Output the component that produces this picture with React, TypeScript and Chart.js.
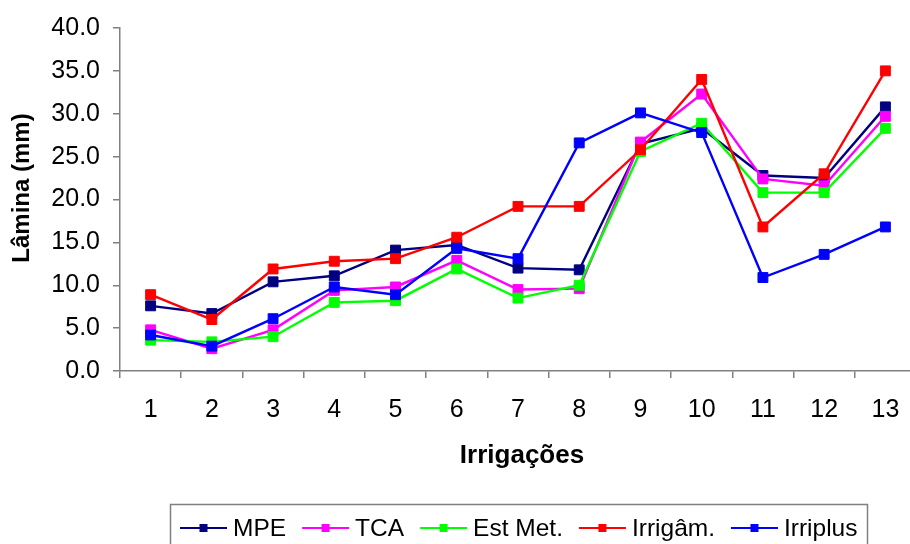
import React, { useEffect, useRef } from 'react';
import { Chart, registerables } from 'chart.js';

Chart.register(...registerables);

const categories = ['1', '2', '3', '4', '5', '6', '7', '8', '9', '10', '11', '12', '13'];
const seriesNames = ['MPE', 'TCA', 'Est Met.', 'Irrigâm.', 'Irriplus'];
const seriesColors = ['#000080', '#FF00FF', '#00FF00', '#FF0000', '#0000FF'];

const mpe = [7.6, 6.7, 10.4, 11.1, 14.1, 14.7, 12.0, 11.8, 26.5, 28.3, 22.8, 22.5, 30.8];
const tca = [4.8, 2.6, 4.8, 9.4, 9.8, 12.9, 9.5, 9.6, 26.7, 32.3, 22.4, 21.6, 29.7];
const estMet = [3.6, 3.4, 4.0, 8.0, 8.2, 11.9, 8.5, 10.0, 25.6, 28.9, 20.8, 20.8, 28.3];
const irrigam = [8.9, 6.0, 11.9, 12.8, 13.1, 15.6, 19.2, 19.2, 25.8, 34.0, 16.8, 23.0, 35.0];
const irriplus = [4.2, 2.9, 6.1, 9.8, 8.9, 14.3, 13.1, 26.6, 30.1, 27.8, 10.9, 13.6, 16.8];

const seriesValues = [mpe, tca, estMet, irrigam, irriplus];

const yTitle = 'Lâmina (mm)';
const xTitle = 'Irrigações';

const FONT = '"Liberation Sans", Arial, sans-serif';
const AXIS_GRAY = '#808080';

const titlesAndLegend = {
  id: 'titlesAndLegend',
  afterDraw(chart: any) {
    const ctx = chart.ctx as CanvasRenderingContext2D;
    ctx.save();
    ctx.fillStyle = '#000';
    // Y title
    ctx.save();
    ctx.translate(22, 188);
    ctx.rotate(-Math.PI / 2);
    ctx.font = `bold 24px ${FONT}`;
    ctx.textAlign = 'center';
    ctx.textBaseline = 'middle';
    ctx.fillText(yTitle, 0, 0);
    ctx.restore();
    // X title
    ctx.font = `bold 26px ${FONT}`;
    ctx.textAlign = 'center';
    ctx.textBaseline = 'middle';
    ctx.fillText(xTitle, 522, 456);

    // Legend box
    ctx.strokeStyle = AXIS_GRAY;
    ctx.lineWidth = 1.5;
    ctx.strokeRect(170.5, 504.5, 697, 70);

    ctx.font = `24.5px ${FONT}`;
    ctx.textAlign = 'left';
    ctx.textBaseline = 'middle';
    let x = 180;
    const cy = 528;
    chart.data.datasets
      .slice()
      .sort((a: any, b: any) => a.legendIndex - b.legendIndex)
      .forEach((ds: any) => {
        ctx.strokeStyle = ds.borderColor;
        ctx.lineWidth = 2;
        ctx.beginPath();
        ctx.moveTo(x, cy);
        ctx.lineTo(x + 47, cy);
        ctx.stroke();
        ctx.fillStyle = ds.borderColor;
        ctx.fillRect(x + 23.5 - 4, cy - 4, 8, 8);
        ctx.fillStyle = '#000';
        ctx.fillText(ds.label, x + 53, cy + 1);
        x = x + 53 + ctx.measureText(ds.label).width + 16;
      });
    ctx.restore();
  },
};

export default function App() {
  const ref = useRef<HTMLCanvasElement>(null);

  useEffect(() => {
    if (!ref.current) return;
    const n = seriesNames.length;
    const chart = new Chart(ref.current, {
      type: 'line',
      data: {
        labels: categories,
        datasets: seriesNames.map((name, i) => ({
          label: name,
          data: seriesValues[i],
          borderColor: seriesColors[i],
          backgroundColor: seriesColors[i],
          pointBackgroundColor: seriesColors[i],
          pointBorderColor: seriesColors[i],
          borderWidth: 2.4,
          pointStyle: 'rect',
          pointRadius: 7,
          pointBorderWidth: 1,
          tension: 0,
          fill: false,
          order: n - i,
          legendIndex: i,
        })) as any,
      },
      options: {
        animation: false,
        responsive: false,
        devicePixelRatio: 1,
        layout: { padding: { left: 0, top: 28, right: 2, bottom: 129 } },
        plugins: {
          legend: { display: false },
          tooltip: { enabled: false },
          title: { display: false },
        },
        scales: {
          x: {
            type: 'category',
            offset: true,
            afterFit: (scale: any) => {
              scale.height = 60;
            },
            grid: {
              offset: true,
              drawOnChartArea: false,
              drawTicks: true,
              tickLength: 7,
              color: AXIS_GRAY,
              lineWidth: 1.5,
            },
            border: { display: true, color: AXIS_GRAY, width: 1.5 },
            ticks: {
              color: '#000',
              font: { family: FONT, size: 25 },
              padding: 17,
              maxRotation: 0,
              autoSkip: false,
            },
          },
          y: {
            min: 0,
            max: 40,
            afterFit: (scale: any) => {
              scale.width = 120;
            },
            grid: {
              drawOnChartArea: false,
              drawTicks: true,
              tickLength: 7,
              color: AXIS_GRAY,
              lineWidth: 1.5,
            },
            border: { display: true, color: AXIS_GRAY, width: 1.5 },
            ticks: {
              stepSize: 5,
              color: '#000',
              font: { family: FONT, size: 25 },
              padding: 13,
              callback: (v: any) => Number(v).toFixed(1),
            },
          },
        },
      },
      plugins: [titlesAndLegend],
    });
    return () => chart.destroy();
  }, []);

  return (
    <div
      style={{
        position: 'absolute',
        left: 0,
        top: 0,
        width: 910,
        height: 544,
        overflow: 'hidden',
        background: '#fff',
      }}
    >
      <canvas ref={ref} width={924} height={560} style={{ display: 'block' }} />
    </div>
  );
}
